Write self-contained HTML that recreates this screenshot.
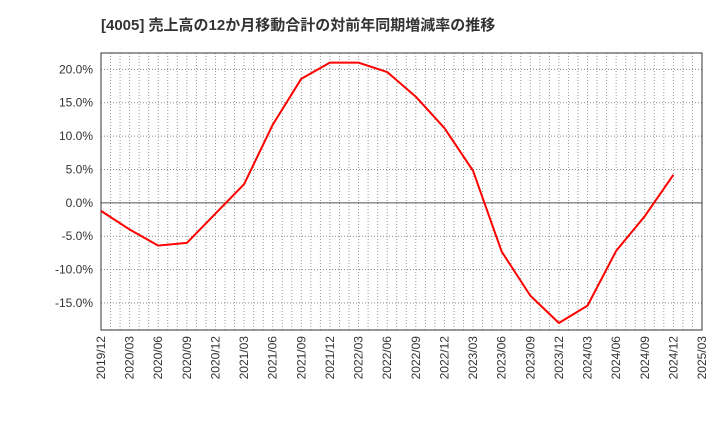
<!DOCTYPE html>
<html><head><meta charset="utf-8"><style>
body{margin:0;background:#fff;width:720px;height:440px;overflow:hidden}
svg text{font-family:"Liberation Sans","Noto Sans CJK JP",sans-serif;fill:#333}
</style></head><body>
<svg id="c" width="720" height="440">
<text x="101" y="30" font-size="15" font-weight="bold">[4005]  売上高の12か月移動合計の対前年同期増減率の推移</text>
</svg>
<script>
const categories=["2019/12","2020/03","2020/06","2020/09","2020/12","2021/03","2021/06","2021/09","2021/12","2022/03","2022/06","2022/09","2022/12","2023/03","2023/06","2023/09","2023/12","2024/03","2024/06","2024/09","2024/12"];
const values=[-1.2,-4.0,-6.4,-6.0,-1.6,2.8,11.7,18.6,21.0,21.0,19.6,15.9,11.2,4.8,-7.3,-13.9,-18.0,-15.4,-7.2,-2.0,4.2];
const xTicks=["2019/12","2020/03","2020/06","2020/09","2020/12","2021/03","2021/06","2021/09","2021/12","2022/03","2022/06","2022/09","2022/12","2023/03","2023/06","2023/09","2023/12","2024/03","2024/06","2024/09","2024/12","2025/03"];
const yTicks=[-15,-10,-5,0,5,10,15,20];
const NS="http://www.w3.org/2000/svg",svg=document.getElementById('c');
const L=101,R=702,T=53,B=330,ymin=-19.05,ymax=22.45;
const x=i=>L+(R-L)*i/(xTicks.length-1);
const y=v=>B-(v-ymin)/(ymax-ymin)*(B-T);
function mk(t,a,p){const e=document.createElementNS(NS,t);for(const k in a)e.setAttribute(k,a[k]);(p||svg).appendChild(e);return e;}
const g=mk('g',{});


for(let m=1;m<(xTicks.length-1)*3;m++){const xx=L+(R-L)*m/((xTicks.length-1)*3);mk('line',{x1:xx,x2:xx,y1:T,y2:B,stroke:'#999','stroke-dasharray':'1,2','stroke-width':1},g);}
yTicks.forEach(v=>{const yy=y(v);
const l=mk('line',{x1:L,x2:R,y1:yy,y2:yy,stroke:v===0?'#555':'#888','stroke-dasharray':v===0?'':'1,2','stroke-width':1},g);
const t=mk('text',{x:L-8,y:yy+4,'font-size':12,'text-anchor':'end'});t.textContent=v.toFixed(1)+'%';

});
xTicks.forEach((s,i)=>{const xx=x(i);const t=mk('text',{x:0,y:0,'font-size':12,'text-anchor':'end',transform:`translate(${xx+4},${B+6}) rotate(-90)`});t.textContent=s;

});
const fr=mk('rect',{x:L,y:T,width:R-L,height:B-T,fill:'none',stroke:'#333','stroke-width':1});


const ln=mk('polyline',{points:values.map((v,i)=>x(categories.indexOf(categories[i]))+','+y(v)).join(' '),fill:'none',stroke:'#f00','stroke-width':2,'stroke-linejoin':'round'});


</script>
</body></html>
